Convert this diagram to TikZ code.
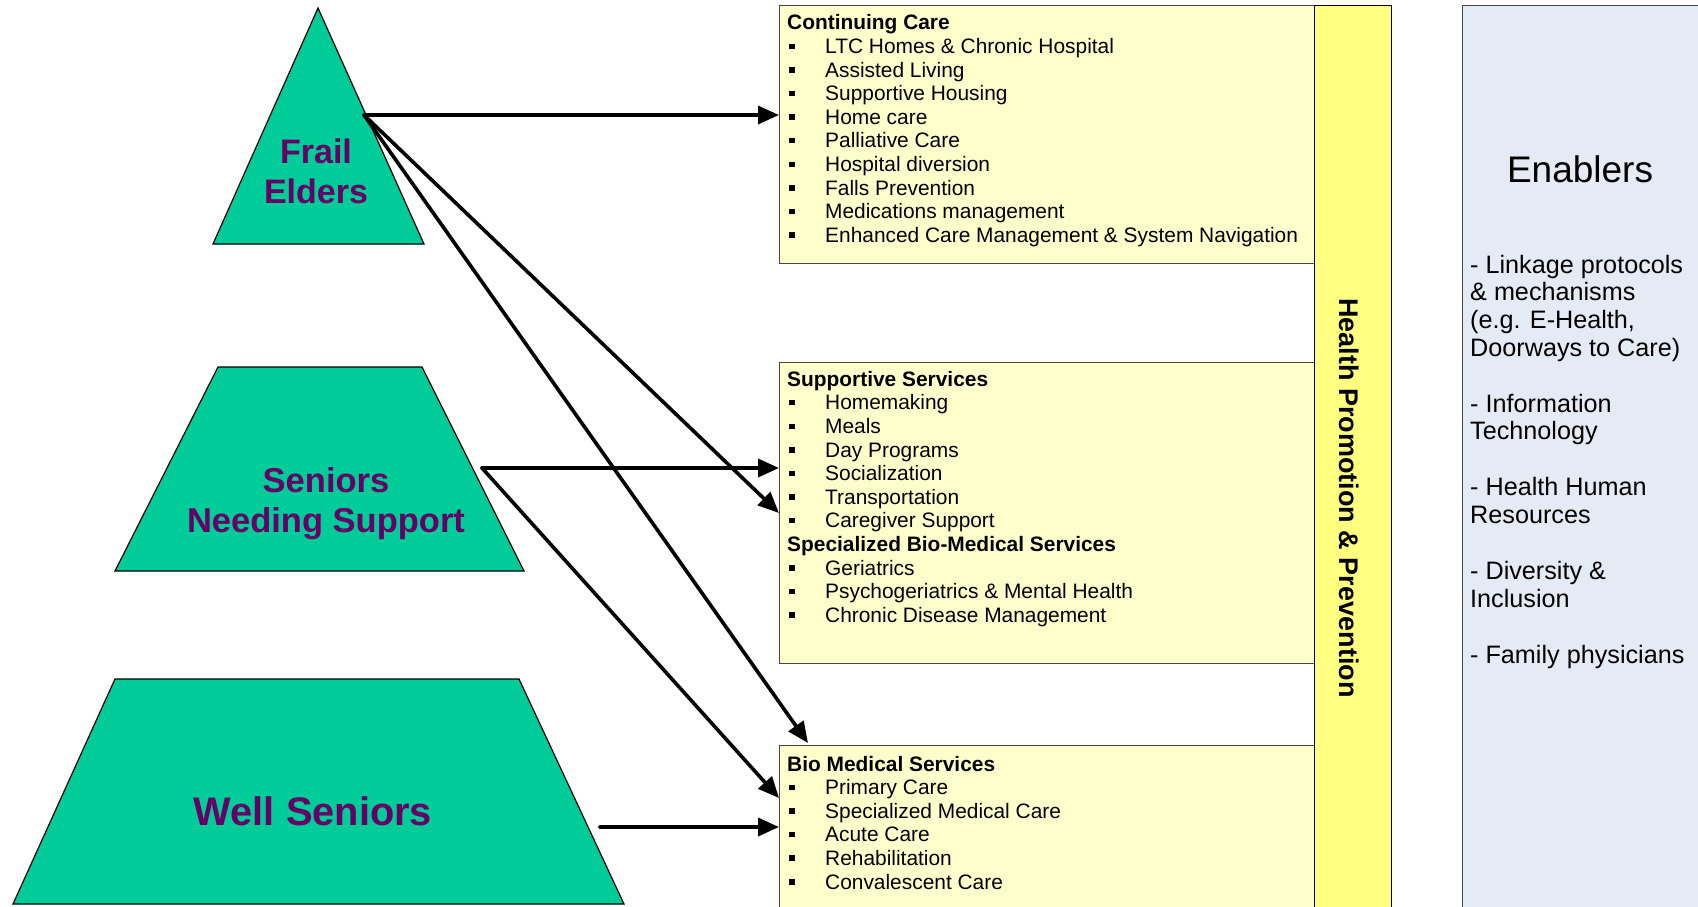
\documentclass[tikz,border=0pt]{standalone}
\usepackage{fontspec}
\setmainfont{Liberation Sans}
\usetikzlibrary{arrows.meta,calc}
\definecolor{shapegreen}{RGB}{0,204,153}
\definecolor{lblpurple}{RGB}{102,0,102}
\definecolor{boxfill}{RGB}{255,255,204}
\definecolor{barfill}{RGB}{255,255,128}
\definecolor{enfill}{RGB}{229,235,245}
\definecolor{boxline}{RGB}{70,70,70}
\newcommand\bul{\makebox[38pt][l]{\hspace{2pt}\rule[4.5pt]{5.5pt}{5.5pt}}}
\begin{document}
\begin{tikzpicture}[x=1pt,y=-1pt,
  tier/.style={fill=shapegreen,draw=black,line width=1.2pt,line join=miter},
  tierlabel/.style={inner sep=0,anchor=base,text=lblpurple},
  svcbox/.style={draw=boxline,fill=boxfill,line width=1pt,anchor=north west,inner sep=0,minimum width=535pt},
  listtext/.style={inner sep=0,anchor=base west},
  link/.style={line width=3.6pt,line cap=round,-{Triangle[length=21pt,width=18pt]}}
]
\useasboundingbox (0,0) rectangle (1698,907);
\fill[white] (0,0) rectangle (1698,907);

% tiers
\draw[tier] (318,8) coordinate (fe-top) -- (424,244) coordinate (fe-br) -- (213,244) coordinate (fe-bl) -- cycle;
\draw[tier] (218,367) coordinate (sn-tl) -- (422,367) coordinate (sn-tr) -- (524,571) coordinate (sn-br) -- (115,571) coordinate (sn-bl) -- cycle;
\draw[tier] (115,679) coordinate (ws-tl) -- (519,679) coordinate (ws-tr) -- (624,904) coordinate (ws-br) -- (13,904) coordinate (ws-bl) -- cycle;

\node[tierlabel,font=\bfseries\fontsize{34}{40}\selectfont] (fel) at (316,163.8) {\parbox[t]{200pt}{\centering Frail\\Elders}};
\node[tierlabel,font=\bfseries\fontsize{34.5}{40}\selectfont] (snl) at (326,492) {\parbox[t]{320pt}{\centering Seniors\\Needing Support}};
\node[tierlabel,font=\bfseries\fontsize{39.8}{44}\selectfont] (wsl) at (313,825) {Well Seniors};

% service boxes
\node[svcbox,minimum height=257.5pt] (cc) at (779,5.5) {};
\node[svcbox,minimum height=301pt] (ss) at (779,362) {};
\node[svcbox,minimum height=170pt] (bm) at (779,745) {};

\node[listtext] (cctext) at (787,30) {\parbox[t]{520pt}{\raggedright\fontsize{20.9}{23.6}\selectfont
\textbf{Continuing Care}\\
\bul LTC Homes \& Chronic Hospital\\
\bul Assisted Living\\
\bul Supportive Housing\\
\bul Home care\\
\bul Palliative Care\\
\bul Hospital diversion\\
\bul Falls Prevention\\
\bul Medications management\\
\bul Enhanced Care Management \& System Navigation}};

\node[listtext] (sstext) at (787,386.3) {\parbox[t]{520pt}{\raggedright\fontsize{20.9}{23.6}\selectfont
\textbf{Supportive Services}\\
\bul Homemaking\\
\bul Meals\\
\bul Day Programs\\
\bul Socialization\\
\bul Transportation\\
\bul Caregiver Support\\
\textbf{Specialized Bio-Medical Services}\\
\bul Geriatrics\\
\bul Psychogeriatrics \& Mental Health\\
\bul Chronic Disease Management}};

\node[listtext] (bmtext) at (787,771) {\parbox[t]{520pt}{\raggedright\fontsize{20.9}{23.6}\selectfont
\textbf{Bio Medical Services}\\
\bul Primary Care\\
\bul Specialized Medical Care\\
\bul Acute Care\\
\bul Rehabilitation\\
\bul Convalescent Care}};

% health promotion bar
\node[draw=black,fill=barfill,line width=1pt,anchor=north west,inner sep=0,minimum width=77pt,minimum height=910pt] (bar) at (1314,5) {};
\node[rotate=-90,inner sep=0,font=\bfseries\fontsize{27}{30}\selectfont] (hp) at (1349,498) {Health Promotion \& Prevention};

% enablers
\node[draw=boxline,fill=enfill,line width=1pt,anchor=north west,inner sep=0,minimum width=250pt,minimum height=910pt] (en) at (1462,5) {};
\node[inner sep=0,anchor=base,font=\fontsize{37}{40}\selectfont] (entitle) at (1580,182) {Enablers};
\node[listtext] (entext) at (1470,273) {\parbox[t]{228pt}{\raggedright\fontsize{25.2}{27.7}\selectfont
- Linkage protocols\\
\& mechanisms\\
(e.g. E-Health,\\
Doorways to Care)\\[28.3pt]
- Information\\
Technology\\[28.3pt]
- Health Human\\
Resources\\[28.3pt]
- Diversity \&\\
Inclusion\\[28.3pt]
- Family physicians}};

% connectors
\coordinate (fe-out) at (364,115);
\coordinate (sn-out) at (482,468);
\coordinate (ws-out) at (600,827);
\coordinate (bm-in1) at ($(bm.north west)+(29,-2)$);
\coordinate (bm-in2) at ($(bm.north west)+(0,53)$);
\draw[link] (fe-out) -- (cc.west |- fe-out);
\draw[link] (fe-out) -- (ss.west);
\draw[link] (fe-out) -- (bm-in1);
\draw[link] (sn-out) -- (ss.west |- sn-out);
\draw[link] (sn-out) -- (bm-in2);
\draw[link] (ws-out) -- (bm.west |- ws-out);
\end{tikzpicture}
\end{document}
